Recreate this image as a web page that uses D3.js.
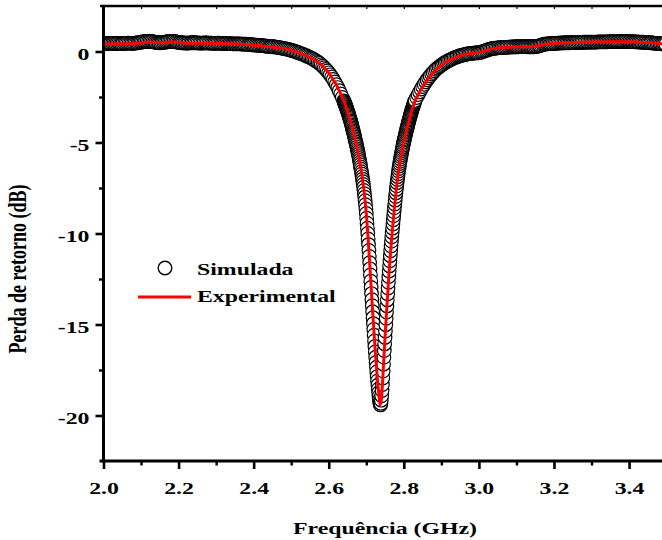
<!DOCTYPE html>
<html>
<head>
<meta charset="utf-8">
<script src="https://cdn.jsdelivr.net/npm/d3@7"></script>
<style>
  html, body { margin: 0; padding: 0; background: #fff; }
  svg { display: block; }
  text { font-family: "Liberation Serif", "Times New Roman", serif; font-weight: bold; fill: #000; }
</style>
</head>
<body>
<svg id="chart" width="662" height="540"></svg>
<script>
// Simulated return loss (dB) on three regular frequency grids (GHz)
const simLowStart = 2.000, simLowStep = 0.004;
const simLowLoss = [
  0.42,0.43,0.43,0.44,0.44,0.45,0.45,0.45,0.44,0.44,
  0.44,0.43,0.43,0.44,0.45,0.45,0.46,0.46,0.45,0.45,
  0.45,0.46,0.47,0.48,0.49,0.51,0.53,0.54,0.55,0.56,
  0.56,0.56,0.55,0.54,0.52,0.50,0.49,0.48,0.48,0.49,
  0.50,0.51,0.53,0.55,0.56,0.56,0.56,0.55,0.54,0.52,
  0.50,0.49,0.48,0.47,0.47,0.46,0.46,0.47,0.47,0.48,
  0.48,0.48,0.47,0.47,0.46,0.46,0.46,0.47,0.47,0.47,
  0.46,0.46,0.46,0.45,0.45,0.45,0.46,0.46,0.45,0.45,
  0.44,0.44,0.44,0.43,0.43,0.43,0.42,0.42,0.42,0.42,
  0.42,0.42,0.41,0.41,0.40,0.40,0.39,0.38,0.38,0.37,
  0.36,0.35,0.35,0.34,0.33,0.33,0.32,0.31,0.30,0.29,
  0.28,0.27,0.27,0.26,0.25,0.24,0.23,0.21,0.20,0.18,
  0.16,0.15,0.13,0.11,0.09,0.07,0.04,0.02,-0.01,-0.04,
  -0.07,-0.10,-0.13,-0.16,-0.20,-0.23,-0.27,-0.31,-0.35,-0.39,
  -0.44,-0.49,-0.54,-0.60,-0.66,-0.73,-0.81,-0.89,-0.98,-1.07,
  -1.17,-1.28,-1.40,-1.53,-1.67,-1.82,-1.98,-2.15,-2.33,-2.52
];
const simDipStart = 2.640, simDipStep = 0.001;
const simDipLoss = [
  -2.71,-2.76,-2.81,-2.86,-2.92,-2.97,-3.03,-3.09,-3.15,-3.21,
  -3.27,-3.33,-3.40,-3.46,-3.53,-3.60,-3.67,-3.74,-3.81,-3.88,
  -3.96,-4.04,-4.12,-4.20,-4.28,-4.36,-4.44,-4.52,-4.61,-4.70,
  -4.79,-4.88,-4.97,-5.06,-5.15,-5.25,-5.35,-5.45,-5.55,-5.65,
  -5.76,-5.87,-5.98,-6.10,-6.22,-6.34,-6.47,-6.60,-6.73,-6.87,
  -7.01,-7.15,-7.30,-7.46,-7.63,-7.81,-8.00,-8.20,-8.42,-8.65,
  -8.90,-9.16,-9.43,-9.71,-10.00,-10.30,-10.61,-10.93,-11.26,-11.60,
  -11.94,-12.28,-12.62,-12.96,-13.30,-13.64,-13.97,-14.30,-14.63,-14.95,
  -15.27,-15.59,-15.90,-16.21,-16.51,-16.80,-17.08,-17.35,-17.61,-17.86,
  -18.10,-18.33,-18.55,-18.75,-18.95,-19.13,-19.29,-19.40,-19.42,-19.33,
  -19.16,-18.92,-18.63,-18.30,-17.94,-17.56,-17.18,-16.80,-16.43,-16.07,
  -15.71,-15.36,-15.01,-14.66,-14.32,-13.98,-13.65,-13.32,-13.00,-12.68,
  -12.37,-12.07,-11.78,-11.50,-11.22,-10.95,-10.69,-10.43,-10.18,-9.94,
  -9.71,-9.48,-9.25,-9.03,-8.81,-8.59,-8.38,-8.17,-7.97,-7.77,
  -7.58,-7.39,-7.21,-7.04,-6.88,-6.72,-6.57,-6.43,-6.29,-6.16,
  -6.03,-5.91,-5.79,-5.68,-5.57,-5.46,-5.36,-5.26,-5.16,-5.06,
  -4.96,-4.87,-4.78,-4.69,-4.60,-4.51,-4.42,-4.33,-4.25,-4.17,
  -4.09,-4.01,-3.93,-3.85,-3.77,-3.69,-3.61,-3.54,-3.47,-3.40,
  -3.33,-3.26,-3.19,-3.12,-3.05,-2.99,-2.93,-2.87,-2.81,-2.75,
  -2.69
];
const simHighStart = 2.834, simHighStep = 0.004;
const simHighLoss = [
  -2.53,-2.37,-2.22,-2.07,-1.93,-1.80,-1.67,-1.55,-1.44,-1.34,
  -1.24,-1.15,-1.06,-0.98,-0.91,-0.84,-0.78,-0.72,-0.66,-0.61,
  -0.56,-0.51,-0.47,-0.43,-0.39,-0.35,-0.32,-0.29,-0.26,-0.23,
  -0.21,-0.19,-0.17,-0.15,-0.13,-0.12,-0.11,-0.10,-0.09,-0.08,
  -0.08,-0.07,-0.06,-0.04,-0.01,0.02,0.05,0.08,0.11,0.13,
  0.15,0.17,0.18,0.19,0.20,0.21,0.21,0.22,0.22,0.23,
  0.23,0.24,0.24,0.25,0.25,0.25,0.26,0.26,0.26,0.27,
  0.27,0.27,0.27,0.27,0.26,0.26,0.26,0.26,0.26,0.27,
  0.28,0.30,0.32,0.35,0.38,0.40,0.41,0.42,0.43,0.43,
  0.44,0.44,0.45,0.45,0.46,0.46,0.47,0.47,0.47,0.48,
  0.48,0.48,0.48,0.49,0.49,0.49,0.49,0.50,0.50,0.50,
  0.50,0.51,0.51,0.51,0.51,0.51,0.52,0.52,0.52,0.52,
  0.52,0.53,0.53,0.53,0.53,0.53,0.53,0.53,0.54,0.54,
  0.54,0.54,0.54,0.54,0.54,0.55,0.55,0.55,0.55,0.55,
  0.55,0.54,0.54,0.54,0.54,0.53,0.53,0.53,0.52,0.52,
  0.51,0.51,0.50,0.50,0.49,0.48,0.48,0.47,0.46,0.45,
  0.45,0.44,0.43,0.42,0.42,0.41,0.40
];

// Measured return loss
const expFreq = [
  2.00,2.02,2.04,2.06,2.08,2.10,2.12,2.14,2.16,2.18,2.20,2.22,2.25,2.28,2.31,2.34,2.37,
  2.40,2.43,2.46,2.48,2.50,2.52,2.54,2.56,2.58,2.60,2.62,2.63,2.64,2.65,2.66,2.67,2.68,
  2.685,2.69,2.695,2.70,2.705,2.71,2.715,2.72,2.725,2.73,2.733,2.735,2.737,2.739,2.741,
  2.743,2.745,2.75,2.755,2.76,2.765,2.77,2.775,2.78,2.785,2.79,2.80,2.81,2.82,2.83,2.84,
  2.85,2.87,2.89,2.91,2.93,2.95,2.97,2.99,3.01,3.03,3.05,3.08,3.11,3.14,3.16,3.18,3.21,
  3.25,3.30,3.35,3.40,3.44,3.47,3.50
];
const expLoss = [
  0.40,0.42,0.41,0.43,0.44,0.47,0.53,0.49,0.47,0.53,0.50,0.46,0.45,0.46,0.44,0.42,0.40,
  0.35,0.29,0.22,0.16,0.07,-0.07,-0.23,-0.44,-0.73,-1.17,-1.82,-2.24,-2.71,-3.27,-3.96,-4.79,-5.76,
  -6.34,-7.01,-7.81,-8.90,-10.30,-11.94,-13.64,-15.27,-16.80,-18.10,-18.75,-19.13,-19.40,-19.33,-18.92,
  -18.30,-17.56,-15.71,-13.98,-12.37,-10.95,-9.71,-8.59,-7.58,-6.72,-6.03,-4.96,-4.09,-3.33,-2.69,-2.30,
  -1.93,-1.34,-0.91,-0.61,-0.39,-0.23,-0.13,-0.08,-0.01,0.13,0.20,0.24,0.27,0.26,0.31,0.41,0.46,
  0.49,0.52,0.54,0.54,0.51,0.46,0.40
];

const seriesNames = ["Simulada", "Experimental"];
const xTicks = [2.0, 2.2, 2.4, 2.6, 2.8, 3.0, 3.2, 3.4];
const xMinorTicks = [2.1, 2.3, 2.5, 2.7, 2.9, 3.1, 3.3];
const yTicks = [0, -5, -10, -15, -20];
const yMinorTicks = [-2.5, -7.5, -12.5, -17.5];
const xTitle = "Frequência (GHz)";
const yTitle = "Perda de retorno (dB)";

// ---- layout ----
const W = 662, H = 540;
const plot = { left: 103.5, top: 6, bottom: 461, right: 666.6 };
const STRETCH = 1.36;   // wide lettering

const svg = d3.select("#chart");
svg.append("rect").attr("width", W).attr("height", H).attr("fill", "#fff");

const x = d3.scaleLinear().domain([2.0, 3.5]).range([plot.left, plot.right]);
const y = d3.scaleLinear().domain([-22.5, 2.5]).range([plot.bottom, plot.top]);

function grid(start, step, values) {
  return values.map((v, i) => ({ f: +(start + i * step).toFixed(4), v }));
}
const simData = [
  ...grid(simLowStart, simLowStep, simLowLoss),
  ...grid(simDipStart, simDipStep, simDipLoss),
  ...grid(simHighStart, simHighStep, simHighLoss)
].sort((a, b) => a.f - b.f);
const expData = expFreq.map((f, i) => ({ f, v: expLoss[i] }));

svg.append("clipPath").attr("id", "plotClip")
  .append("rect")
  .attr("x", plot.left).attr("y", plot.top)
  .attr("width", W - plot.left).attr("height", plot.bottom - plot.top);

const gData = svg.append("g").attr("clip-path", "url(#plotClip)");

// open circles for the simulation
gData.selectAll("circle.sim")
  .data(simData)
  .join("circle")
  .attr("class", "sim")
  .attr("cx", d => x(d.f))
  .attr("cy", d => y(d.v))
  .attr("r", 6.8)
  .attr("fill", "#fff")
  .attr("stroke", "#000")
  .attr("stroke-width", 1.2);

// measured curve
gData.append("path")
  .datum(expData)
  .attr("fill", "none")
  .attr("stroke", "#ff0000")
  .attr("stroke-width", 3)
  .attr("stroke-linejoin", "round")
  .attr("d", d3.line().x(d => x(d.f)).y(d => y(d.v)));

// ---- axes ----
const fmtX = d3.format(".1f");
const fmtY = d => String(d);   // plain hyphen for negatives

const gx = svg.append("g").attr("transform", `translate(0,${plot.bottom})`);
gx.call(d3.axisBottom(x).tickValues(xTicks).tickSize(8).tickSizeOuter(0).tickFormat(fmtX));
gx.select(".domain").remove();
gx.selectAll(".tick line").attr("stroke", "#000").attr("stroke-width", 2.6);
gx.selectAll(".tick text")
  .attr("y", 33).attr("dy", 0)
  .attr("font-size", 17.5)
  .attr("transform", `scale(${STRETCH},1)`);

const gxm = svg.append("g").attr("transform", `translate(0,${plot.bottom})`);
gxm.call(d3.axisBottom(x).tickValues(xMinorTicks).tickSize(4.5).tickSizeOuter(0).tickFormat(""));
gxm.select(".domain").remove();
gxm.selectAll(".tick line").attr("stroke", "#000").attr("stroke-width", 2.4);

// top frame with small inner ticks
const gt = svg.append("g").attr("transform", `translate(0,${plot.top})`);
gt.call(d3.axisTop(x).tickValues([...xTicks, ...xMinorTicks]).tickSize(-3).tickSizeOuter(0).tickFormat(""));
gt.select(".domain").remove();
gt.selectAll(".tick line").attr("stroke", "#000").attr("stroke-width", 1.2);

const gy = svg.append("g").attr("transform", `translate(${plot.left},0)`);
gy.call(d3.axisLeft(y).tickValues(yTicks).tickSize(8).tickSizeOuter(0).tickFormat(fmtY));
gy.select(".domain").remove();
gy.selectAll(".tick line").attr("stroke", "#000").attr("stroke-width", 2.6);
gy.selectAll(".tick text")
  .attr("x", -14 / STRETCH).attr("dy", 0).attr("y", 7.5)
  .attr("font-size", 17.5)
  .attr("text-anchor", "end")
  .attr("transform", `scale(${STRETCH},1)`);

const gym = svg.append("g").attr("transform", `translate(${plot.left},0)`);
gym.call(d3.axisLeft(y).tickValues(yMinorTicks).tickSize(4.5).tickSizeOuter(0).tickFormat(""));
gym.select(".domain").remove();
gym.selectAll(".tick line").attr("stroke", "#000").attr("stroke-width", 2.4);

// frame lines
svg.append("line")
  .attr("x1", 99.5).attr("x2", W).attr("y1", plot.bottom).attr("y2", plot.bottom)
  .attr("stroke", "#000").attr("stroke-width", 3);
svg.append("line")
  .attr("x1", 100).attr("x2", W).attr("y1", plot.top).attr("y2", plot.top)
  .attr("stroke", "#000").attr("stroke-width", 2.4);
svg.append("line")
  .attr("x1", plot.left).attr("x2", plot.left).attr("y1", plot.top - 1).attr("y2", plot.bottom + 1.5)
  .attr("stroke", "#000").attr("stroke-width", 3);

// axis titles
svg.append("text")
  .attr("transform", `translate(385,534) scale(${STRETCH},1)`)
  .attr("text-anchor", "middle")
  .attr("font-size", 17.5)
  .text(xTitle);

svg.append("text")
  .attr("transform", `translate(25.5,269) rotate(-90) scale(1,${STRETCH})`)
  .attr("text-anchor", "middle")
  .attr("font-size", 18)
  .text(yTitle);

// legend
const lg = svg.append("g");
lg.append("circle")
  .attr("cx", 165).attr("cy", 268).attr("r", 6.8)
  .attr("fill", "#fff").attr("stroke", "#000").attr("stroke-width", 1.4);
lg.append("text")
  .attr("transform", `translate(197,275) scale(${STRETCH},1)`)
  .attr("font-size", 17.5)
  .text(seriesNames[0]);
lg.append("line")
  .attr("x1", 138).attr("x2", 191).attr("y1", 297).attr("y2", 297)
  .attr("stroke", "#ff0000").attr("stroke-width", 3);
lg.append("text")
  .attr("transform", `translate(197,302) scale(${STRETCH},1)`)
  .attr("font-size", 17.5)
  .text(seriesNames[1]);
</script>
</body>
</html>
